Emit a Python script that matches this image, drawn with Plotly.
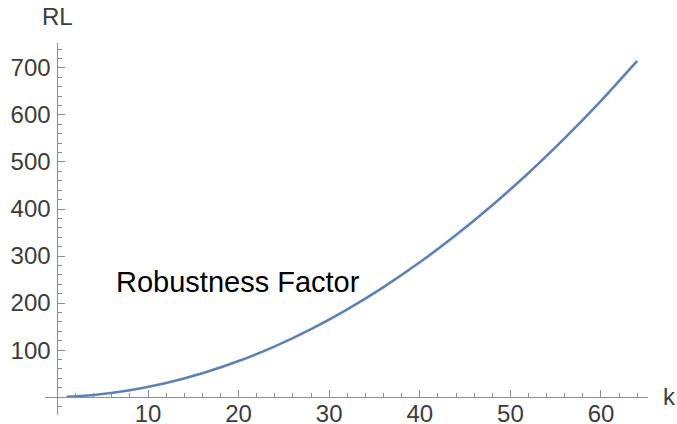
import plotly.graph_objects as go

# values
k_values = [1, 4, 8, 12, 16, 20, 24, 28, 32, 36, 40, 44, 48, 52, 56, 60, 64]
rl_values = [0.7, 4.7, 14.7, 30, 50.7, 76.7, 108, 144.7, 186.7, 234, 286.7, 344.7, 408, 476.7, 550.7, 630, 715]
x_tick_vals = [10, 20, 30, 40, 50, 60]
y_tick_vals = [100, 200, 300, 400, 500, 600, 700]

x_range = [-1.37, 65.19]
y_range = [-38, 753]

AXIS = "#8c8c8c"
LABEL = "#3c3c3c"
FONT = "Liberation Sans, Arial, Helvetica, sans-serif"

fig = go.Figure()
fig.add_trace(go.Scatter(
    x=k_values, y=rl_values, mode="lines",
    line=dict(color="#5E81B5", width=2.6, shape="spline", smoothing=0.6),
    hoverinfo="skip", showlegend=False,
))

xpos = (0 - y_range[0]) / (y_range[1] - y_range[0])
ypos = (0 - x_range[0]) / (x_range[1] - x_range[0])

fig.update_layout(
    width=677, height=424, autosize=False,
    margin=dict(l=45, r=29, t=43, b=9, pad=0, autoexpand=False),
    paper_bgcolor="white", plot_bgcolor="white",
    font=dict(family=FONT, color=LABEL),
    xaxis=dict(
        range=x_range, anchor="free", position=xpos, automargin=False,
        showline=True, linecolor=AXIS, linewidth=1,
        showgrid=False, zeroline=False,
        tickmode="array", tickvals=x_tick_vals, ticktext=[str(v) for v in x_tick_vals],
        ticks="inside", ticklen=7, tickcolor=AXIS, tickwidth=1,
        ticklabelstandoff=-5,
        tickfont=dict(size=24, color=LABEL, family=FONT),
        minor=dict(tickmode="linear", tick0=0, dtick=2, ticks="inside", ticklen=4, tickcolor=AXIS, tickwidth=1),
    ),
    yaxis=dict(
        range=y_range, anchor="free", position=ypos, automargin=False,
        showline=True, linecolor=AXIS, linewidth=1,
        showgrid=False, zeroline=False,
        tickmode="array", tickvals=y_tick_vals, ticktext=[str(v) for v in y_tick_vals],
        ticks="inside", ticklen=7, tickcolor=AXIS, tickwidth=1,
        ticklabelstandoff=2,
        tickfont=dict(size=24, color=LABEL, family=FONT),
        minor=dict(tickmode="linear", tick0=0, dtick=20, ticks="inside", ticklen=4, tickcolor=AXIS, tickwidth=1),
    ),
    annotations=[
        dict(text="RL", xref="paper", yref="paper", x=0.0207, y=1.071,
             xanchor="center", yanchor="middle", showarrow=False,
             font=dict(size=24, color=LABEL, family=FONT)),
        dict(text="k", xref="paper", yref="paper", x=1.035, y=0.051,
             xanchor="center", yanchor="middle", showarrow=False,
             font=dict(size=24, color=LABEL, family=FONT)),
        dict(text="Robustness Factor", xref="x", yref="y", x=19.94, y=245,
             xanchor="center", yanchor="middle", showarrow=False,
             font=dict(size=29, color="black", family=FONT)),
    ],
)

fig.write_html(
    "out.html",
    config={"displayModeBar": False, "staticPlot": True},
    post_script="document.body.style.margin='0';document.body.style.overflow='hidden';",
)
